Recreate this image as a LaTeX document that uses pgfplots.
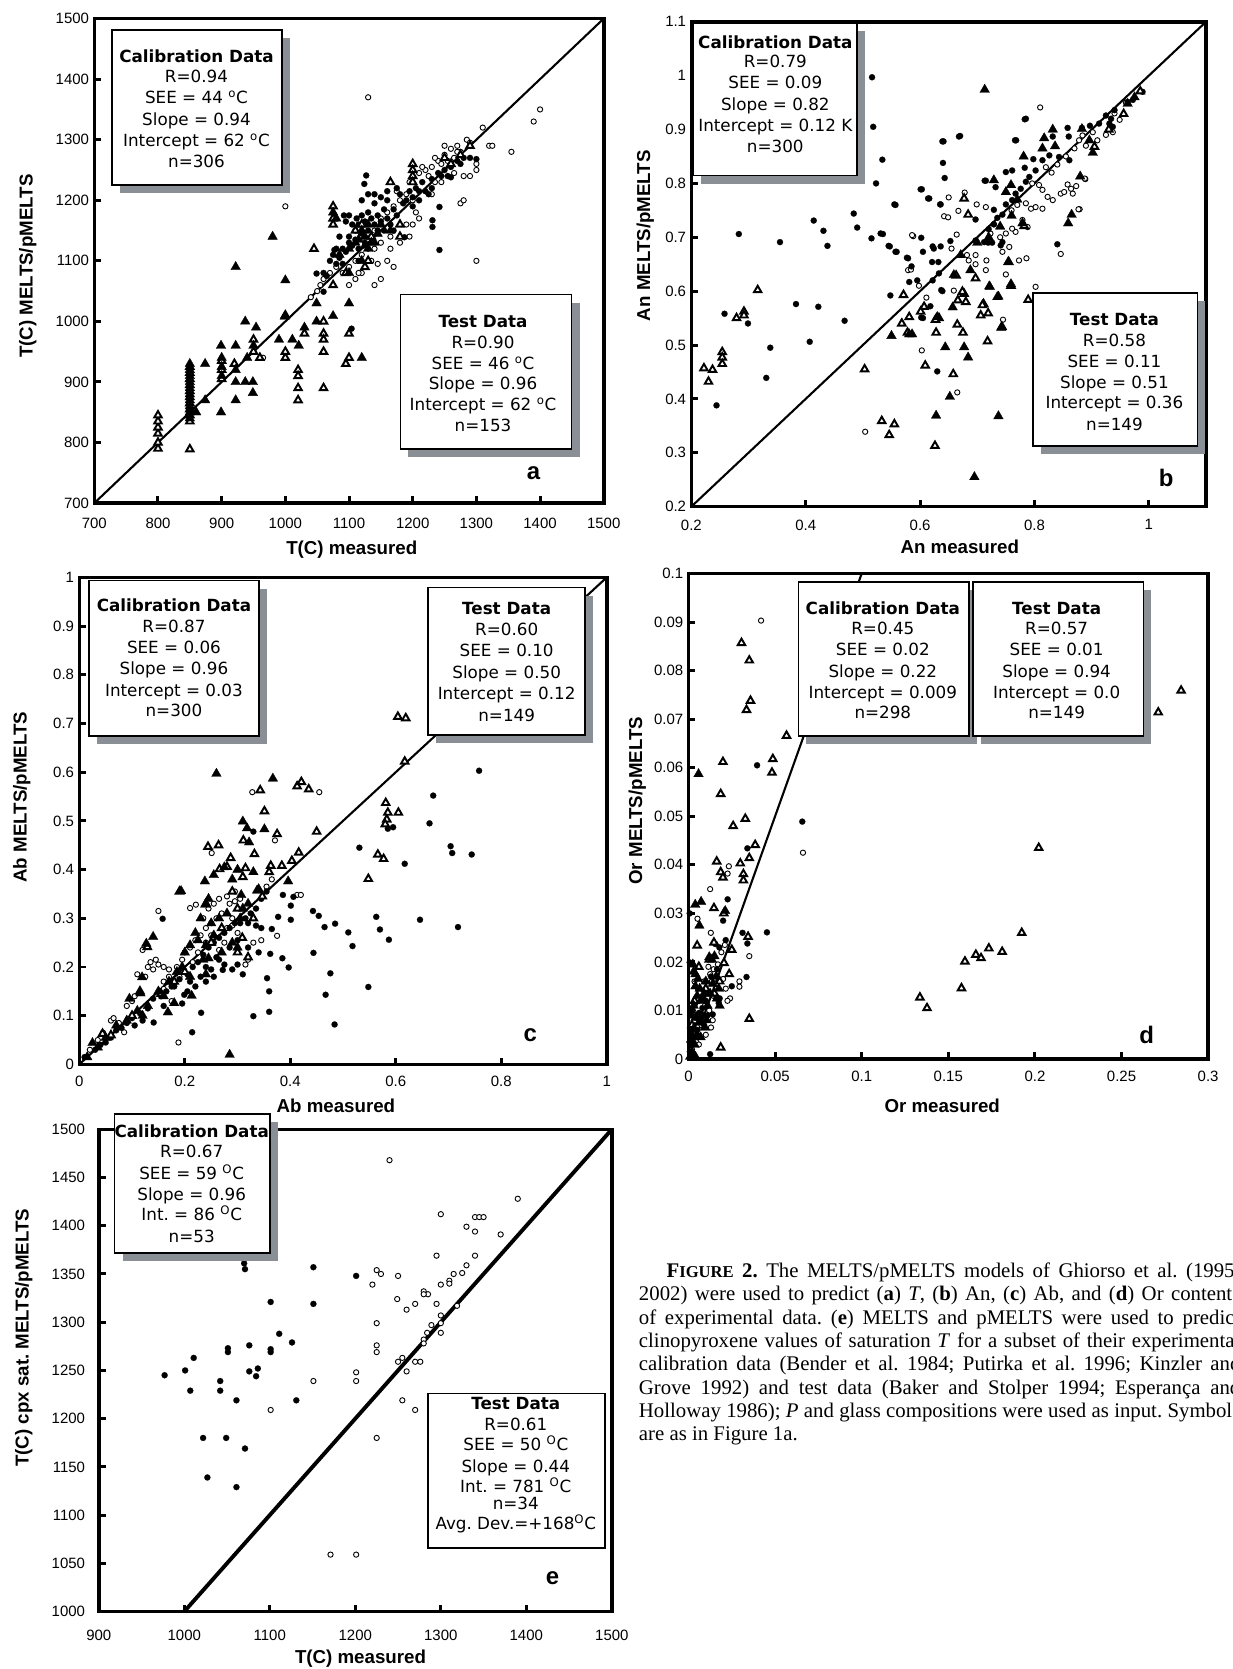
\documentclass[border=0pt]{standalone}
\usepackage{pgfplots}
\pgfplotsset{compat=1.18}
\usepackage{fontspec}
\setmainfont{Liberation Sans}
\newfontfamily\verd{DejaVu Sans}
\newfontfamily\capserif{Liberation Serif}
\definecolor{shgray}{RGB}{138,143,149}
\newcommand{\boxfont}{\verd\fontsize{11.2}{14}\selectfont}
\newcommand{\bl}[3]{\node[anchor=base, inner sep=0pt, font=\boxfont] at ({#1},{1562.2-#2}) {#3};}
\newcommand{\bx}[5]{%
  \ifnum#5=1 \fill[shgray] ({#1+7.5},{1568-#4-7.5}) rectangle ({#3+7.5},{1568-#2-7.5}); \fi
  \filldraw[fill=white,draw=black,line width=1.1pt] ({#1},{1568-#4}) rectangle ({#3},{1568-#2});}
\newcommand{\dg}[1]{\textsuperscript{#1}}
\pgfplotsset{
  panel/.style={
    scale only axis, clip=false, anchor=south west,
    axis line style={line width=2.4pt},
    tick align=inside, xtick pos=left, ytick pos=left,
    major tick length=1.6mm,
    every tick/.append style={line width=2pt, black},
    tick label style={font=\fontsize{10}{12}\selectfont},
    xticklabel style={yshift=-1.5mm},
    scaled ticks=false,
  },
  fc/.style={only marks, mark=*, mark size=0.72mm, mark options={fill=black, draw=black, line width=0.1pt}},
  oc/.style={only marks, mark=*, mark size=0.62mm, mark options={fill=white, draw=black, line width=0.6pt}},
  ft/.style={only marks, mark=triangle*, mark size=1.3mm, mark options={fill=black, draw=black, line width=0.2pt}},
  ot/.style={only marks, mark=triangle*, mark size=1.0mm, mark options={fill=white, draw=black, line width=1.3pt}},
}
\begin{document}
\frenchspacing
\begin{tikzpicture}[x=0.25mm,y=0.25mm]
% ---------------- panel a ----------------
\begin{axis}[panel, at={(22.15mm,273.825mm)}, width=119.65mm, height=113.8mm,
  xmin=700,xmax=1500,ymin=700,ymax=1500,
  xtick={700,800,...,1500}, ytick={700,800,...,1500},
  xticklabels={700,800,900,1000,1100,1200,1300,1400,1500},
  yticklabels={700,800,900,1000,1100,1200,1300,1400,1500},
  xticklabel style={yshift=-0.7mm}]
\addplot[black, line width=1.4pt] coordinates {(700,700) (1500,1500)};
\addplot[oc] coordinates {(1130,1370) (1000,1190) (1300,1100) (1390,1330) (1400,1350) (1355,1280) (1320,1290) (1325,1290) (1280,1240) (1290,1240) (1275,1195) (1280,1200) (1300,1260) (1300,1250) (1310,1320) (1285,1300) (1290,1295) (1270,1290) (1260,1285) (1250,1275) (1240,1265) (1230,1255) (1220,1250) (1210,1245) (1215,1255) (1225,1240) (1235,1230) (1245,1260) (1255,1265) (1265,1270) (1275,1280) (1195,1230) (1190,1210) (1180,1200) (1170,1190) (1175,1215) (1160,1180) (1150,1170) (1140,1150) (1130,1120) (1120,1110) (1110,1100) (1100,1090) (1090,1080) (1080,1090) (1070,1080) (1060,1070) (1055,1060) (1050,1050) (1040,1040) (1140,1060) (1150,1070) (1120,1080) (1115,1080) (1160,1100) (1165,1120) (1170,1090) (1180,1130) (1190,1160) (1200,1160) (1210,1170) (1165,1140) (1150,1130) (1140,1120) (1135,1100) (1145,1095) (965,940) (1200,1200) (1205,1180) (1265,1245) (1100,1060) (1110,1070) (1230,1210) (1245,1230) (1195,1140) (1235,1270) (1250,1290) (1270,1280)};
\addplot[fc] coordinates {(1060,1080) (1065,1075) (1070,1100) (1075,1110) (1080,1095) (1085,1105) (1090,1120) (1095,1115) (1100,1140) (1100,1130) (1105,1125) (1110,1150) (1110,1135) (1115,1160) (1115,1120) (1120,1175) (1120,1145) (1125,1130) (1125,1165) (1130,1150) (1130,1180) (1135,1140) (1135,1170) (1140,1160) (1140,1195) (1145,1150) (1145,1175) (1150,1205) (1150,1165) (1155,1185) (1155,1150) (1160,1170) (1160,1200) (1165,1160) (1170,1185) (1175,1175) (1180,1210) (1185,1195) (1190,1200) (1195,1215) (1200,1205) (1200,1190) (1205,1220) (1210,1200) (1215,1230) (1220,1215) (1225,1210) (1230,1235) (1240,1245) (1245,1240) (1250,1250) (1255,1240) (1260,1255) (1270,1265) (1275,1260) (1280,1270) (1290,1270) (1300,1268) (1127,1241) (1124,1227) (1242,1189) (1231,1167) (1231,1156) (1242,1118) (1077,1118) (1049,1079) (1060,1049) (1104,988) (1187,1139) (1092,1175) (1100,1175) (1105,1160) (1112,1170) (1095,1165) (1085,1140) (1120,1200) (1130,1210) (1140,1210) (1160,1215) (1175,1220) (1080,1120) (1090,1095) (1260,1238) (1230,1220) (1210,1215) (1170,1150) (1115,1100)};
\addplot[ot] coordinates {(800,790) (800,800) (800,815) (800,825) (800,835) (800,845) (850,789) (850,835) (850,845) (850,855) (850,865) (850,875) (850,885) (850,895) (850,905) (850,915) (850,925) (900,920) (900,935) (900,905) (920,930) (950,950) (950,970) (960,940) (1000,940) (1000,950) (1000,1010) (1020,920) (1020,910) (1020,890) (1020,870) (1030,980) (1060,1000) (1060,980) (1060,970) (1060,950) (1060,890) (1100,980) (1100,940) (1095,930) (1075,1060) (1095,1080) (1045,1120) (1075,1190) (1075,1170) (1075,1160) (1110,1150) (1120,1160) (1135,1140) (1180,1140) (1180,1160) (1200,1260) (1200,1250) (1200,1240) (1200,1230) (1260,1260) (1250,1270) (1275,1275) (1290,1290) (1125,1090) (1130,1100) (1165,1230)};
\addplot[ft] coordinates {(980,1140) (922,1090) (1000,1068) (999,1008) (937,1000) (954,990) (899,960) (922,960) (874,930) (900,940) (900,925) (900,910) (922,920) (922,900) (937,900) (949,900) (949,882) (922,870) (874,870) (899,850) (990,970) (1011,970) (1021,960) (1030,990) (1049,1030) (1049,1000) (1075,1009) (1100,1030) (1120,940) (850,930) (850,920) (850,910) (850,900) (850,890) (850,880) (850,870) (850,860) (850,850) (850,840) (950,960) (940,940) (860,850) (1075,1180) (1080,1170) (1125,1140) (1130,1160) (1120,1150) (1110,1130) (1100,1120) (1085,1110) (1130,1120) (1145,1145) (1165,1150) (1100,1080) (1120,1100) (1140,1130) (1150,1160) (1135,1130) (1125,1125) (1115,1135)};
\end{axis}
% ---------------- panel b ----------------
\begin{axis}[panel, at={(162.375mm,273mm)}, width=120.875mm, height=113.875mm,
  xmin=0.2,xmax=1.1,ymin=0.2,ymax=1.1,
  xtick={0.2,0.4,0.6,0.8,1}, ytick={0.2,0.3,0.4,0.5,0.6,0.7,0.8,0.9,1,1.1},
  xticklabels={0.2,0.4,0.6,0.8,1},
  yticklabels={0.2,0.3,0.4,0.5,0.6,0.7,0.8,0.9,1,1.1},
  xticklabel style={yshift=-0.3mm}]
\addplot[black, line width=1.4pt] coordinates {(0.2,0.2) (1.1,1.1)};
\addplot[oc] coordinates {(0.810,0.941) (0.504,0.339) (0.665,0.412) (0.603,0.490) (0.745,0.547) (0.802,0.608) (0.846,0.669) (0.879,0.752) (0.889,0.808) (0.588,0.702) (0.650,0.774) (0.678,0.783) (0.642,0.739) (0.649,0.737) (0.667,0.749) (0.699,0.761) (0.715,0.756) (0.586,0.704) (0.664,0.705) (0.655,0.679) (0.579,0.639) (0.584,0.640) (0.598,0.610) (0.611,0.588) (0.659,0.601) (0.697,0.650) (0.697,0.667) (0.716,0.657) (0.715,0.639) (0.750,0.631) (0.773,0.657) (0.786,0.661) (0.846,0.781) (0.852,0.784) (0.858,0.798) (0.864,0.790) (0.867,0.781) (0.873,0.795) (0.877,0.752) (0.888,0.809) (0.910,0.880) (0.937,0.895) (0.949,0.918) (0.925,0.890) (0.878,0.880) (0.884,0.889) (0.796,0.800) (0.808,0.797) (0.814,0.788) (0.823,0.775) (0.832,0.769) (0.785,0.763) (0.794,0.753) (0.802,0.756) (0.814,0.753) (0.779,0.732) (0.788,0.719) (0.767,0.710) (0.761,0.716) (0.750,0.707) (0.729,0.724) (0.723,0.707) (0.682,0.667) (0.685,0.657) (0.744,0.673) (0.756,0.682) (0.902,0.895) (0.960,0.950) (0.940,0.930) (0.820,0.830) (0.840,0.835) (0.760,0.750) (0.770,0.760) (0.740,0.700) (0.830,0.820) (0.855,0.850) (0.870,0.865) (0.890,0.870)};
\addplot[fc] coordinates {(0.516,0.997) (0.518,0.905) (0.534,0.844) (0.523,0.800) (0.283,0.706) (0.355,0.691) (0.414,0.731) (0.431,0.712) (0.438,0.684) (0.484,0.744) (0.490,0.718) (0.515,0.698) (0.535,0.706) (0.557,0.760) (0.547,0.683) (0.559,0.673) (0.579,0.661) (0.258,0.558) (0.299,0.540) (0.383,0.576) (0.422,0.571) (0.468,0.545) (0.338,0.495) (0.407,0.506) (0.331,0.439) (0.244,0.388) (0.548,0.592) (0.585,0.646) (0.603,0.789) (0.616,0.772) (0.641,0.878) (0.640,0.838) (0.643,0.810) (0.636,0.761) (0.670,0.888) (0.715,0.805) (0.768,0.880) (0.785,0.920) (0.602,0.699) (0.605,0.673) (0.622,0.683) (0.636,0.683) (0.605,0.550) (0.622,0.620) (0.630,0.451) (0.639,0.600) (0.595,0.620) (0.840,0.687) (0.858,0.903) (0.783,0.919) (0.766,0.880) (0.668,0.887) (0.639,0.878) (0.601,0.789) (0.614,0.772) (0.555,0.761) (0.635,0.761) (0.531,0.707) (0.545,0.684) (0.557,0.673) (0.624,0.679) (0.653,0.693) (0.577,0.662) (0.581,0.617) (0.621,0.654) (0.632,0.654) (0.633,0.633) (0.637,0.602) (0.602,0.551) (0.618,0.572) (0.860,0.887) (0.832,0.887) (0.798,0.845) (0.783,0.829) (0.713,0.805) (0.732,0.793) (0.750,0.821) (0.761,0.824) (0.697,0.733) (0.729,0.751) (0.697,0.694) (0.712,0.691) (0.719,0.690) (0.726,0.690) (0.741,0.685) (0.744,0.691) (0.883,0.903) (0.897,0.907) (0.913,0.911) (0.931,0.911) (0.937,0.905) (0.934,0.920) (0.925,0.926) (0.940,0.936) (0.963,0.951) (0.972,0.955) (0.989,0.970) (0.861,0.843) (0.843,0.849) (0.826,0.852) (0.814,0.843) (0.802,0.824) (0.791,0.812) (0.785,0.803) (0.776,0.790) (0.767,0.781) (0.761,0.769) (0.750,0.761) (0.744,0.742) (0.735,0.736) (0.729,0.724) (0.720,0.715)};
\addplot[ot] coordinates {(0.222,0.457) (0.230,0.432) (0.237,0.454) (0.254,0.487) (0.254,0.477) (0.254,0.465) (0.279,0.550) (0.292,0.562) (0.292,0.555) (0.316,0.602) (0.503,0.455) (0.533,0.359) (0.555,0.353) (0.546,0.333) (0.626,0.313) (0.609,0.462) (0.571,0.593) (0.568,0.540) (0.581,0.552) (0.578,0.523) (0.607,0.571) (0.628,0.523) (0.633,0.550) (0.658,0.446) (0.665,0.538) (0.675,0.523) (0.677,0.595) (0.680,0.580) (0.677,0.772) (0.684,0.742) (0.718,0.507) (0.706,0.555) (0.711,0.576) (0.789,0.584) (0.759,0.610) (0.755,0.654) (0.782,0.721) (0.956,0.929) (0.985,0.971) (0.663,0.629) (0.697,0.624) (0.709,0.574) (0.719,0.559) (0.743,0.534) (0.674,0.599) (0.666,0.583) (0.601,0.562) (0.627,0.547) (0.905,0.868) (0.930,0.900)};
\addplot[ft] coordinates {(0.713,0.974) (0.695,0.255) (0.737,0.368) (0.628,0.369) (0.652,0.404) (0.644,0.496) (0.684,0.477) (0.677,0.496) (0.722,0.608) (0.737,0.590) (0.742,0.532) (0.859,0.726) (0.865,0.742) (0.880,0.813) (0.902,0.857) (0.581,0.520) (0.550,0.517) (0.657,0.570) (0.817,0.884) (0.832,0.900) (0.781,0.850) (0.814,0.865) (0.836,0.869) (0.883,0.901) (0.896,0.880) (0.754,0.654) (0.759,0.613) (0.721,0.609) (0.735,0.589) (0.671,0.667) (0.688,0.639) (0.659,0.630) (0.630,0.552) (0.586,0.520) (0.750,0.784) (0.759,0.797) (0.729,0.806) (0.779,0.726) (0.963,0.948) (0.975,0.960) (0.700,0.690) (0.740,0.720) (0.760,0.740) (0.720,0.700) (0.770,0.770)};
\end{axis}
% ---------------- panel c ----------------
\begin{axis}[panel, at={(18.625mm,142mm)}, width=123.875mm, height=114.375mm,
  xmin=0,xmax=1,ymin=0,ymax=1,
  xtick={0,0.2,0.4,0.6,0.8,1}, ytick={0,0.1,0.2,0.3,0.4,0.5,0.6,0.7,0.8,0.9,1},
  xticklabels={0,0.2,0.4,0.6,0.8,1},
  yticklabels={0,0.1,0.2,0.3,0.4,0.5,0.6,0.7,0.8,0.9,1}]
\addplot[black, line width=1.4pt] coordinates {(0,0) (1,1)};
\addplot[oc] coordinates {(0.455,0.559) (0.328,0.559) (0.371,0.460) (0.251,0.434) (0.150,0.315) (0.188,0.045) (0.413,0.348) (0.420,0.348) (0.375,0.264) (0.085,0.066) (0.210,0.321) (0.221,0.328) (0.130,0.200) (0.140,0.195) (0.150,0.205) (0.145,0.215) (0.135,0.210) (0.160,0.200) (0.170,0.195) (0.125,0.180) (0.110,0.185) (0.120,0.235) (0.060,0.090) (0.065,0.095) (0.075,0.085) (0.045,0.065) (0.020,0.030) (0.035,0.050) (0.090,0.120) (0.100,0.130) (0.105,0.140) (0.160,0.170) (0.170,0.180) (0.180,0.165) (0.185,0.200) (0.195,0.215) (0.200,0.230) (0.210,0.240) (0.220,0.255) (0.230,0.265) (0.240,0.280) (0.250,0.290) (0.260,0.300) (0.270,0.310) (0.235,0.300) (0.245,0.320) (0.255,0.330) (0.265,0.340) (0.285,0.330) (0.295,0.335) (0.305,0.340) (0.225,0.230) (0.215,0.210) (0.280,0.280) (0.290,0.300) (0.330,0.250) (0.345,0.255) (0.320,0.215) (0.315,0.205) (0.300,0.270) (0.250,0.265) (0.240,0.250) (0.355,0.365) (0.365,0.380) (0.290,0.285) (0.265,0.235) (0.275,0.250) (0.160,0.155) (0.175,0.130) (0.190,0.180) (0.295,0.355) (0.280,0.345)};
\addplot[fc] coordinates {(0.758,0.603) (0.671,0.552) (0.664,0.495) (0.704,0.448) (0.707,0.434) (0.744,0.431) (0.617,0.412) (0.646,0.297) (0.718,0.282) (0.563,0.303) (0.570,0.277) (0.587,0.256) (0.548,0.159) (0.531,0.445) (0.585,0.484) (0.595,0.487) (0.485,0.289) (0.510,0.271) (0.518,0.243) (0.465,0.282) (0.443,0.315) (0.454,0.305) (0.444,0.229) (0.476,0.187) (0.467,0.143) (0.484,0.082) (0.385,0.218) (0.397,0.199) (0.401,0.326) (0.401,0.297) (0.377,0.303) (0.365,0.278) (0.362,0.227) (0.356,0.177) (0.360,0.150) (0.360,0.108) (0.330,0.099) (0.231,0.106) (0.214,0.066) (0.158,0.299) (0.141,0.086) (0.330,0.478) (0.386,0.348) (0.406,0.344) (0.272,0.194) (0.199,0.143) (0.010,0.015) (0.030,0.030) (0.050,0.045) (0.060,0.055) (0.080,0.075) (0.090,0.085) (0.100,0.095) (0.115,0.105) (0.130,0.115) (0.140,0.135) (0.155,0.140) (0.165,0.150) (0.175,0.160) (0.190,0.175) (0.205,0.185) (0.215,0.200) (0.225,0.210) (0.235,0.225) (0.245,0.240) (0.255,0.250) (0.265,0.260) (0.275,0.270) (0.285,0.280) (0.295,0.290) (0.305,0.290) (0.315,0.300) (0.325,0.310) (0.335,0.320) (0.345,0.340) (0.355,0.355) (0.265,0.215) (0.275,0.205) (0.290,0.195) (0.300,0.205) (0.310,0.185) (0.320,0.240) (0.335,0.285) (0.345,0.280) (0.340,0.230) (0.250,0.195) (0.230,0.180) (0.220,0.160) (0.205,0.150) (0.195,0.125) (0.210,0.170) (0.240,0.170) (0.255,0.180) (0.320,0.290) (0.300,0.255) (0.285,0.240) (0.260,0.220) (0.240,0.200) (0.180,0.160) (0.160,0.120) (0.120,0.090) (0.105,0.080) (0.070,0.070) (0.040,0.040)};
\addplot[ot] coordinates {(0.413,0.571) (0.421,0.580) (0.435,0.565) (0.343,0.563) (0.351,0.520) (0.311,0.460) (0.332,0.432) (0.287,0.424) (0.363,0.408) (0.384,0.408) (0.403,0.418) (0.416,0.435) (0.375,0.473) (0.450,0.478) (0.244,0.447) (0.264,0.450) (0.266,0.401) (0.280,0.406) (0.315,0.403) (0.581,0.537) (0.585,0.517) (0.583,0.503) (0.580,0.493) (0.605,0.517) (0.566,0.431) (0.577,0.422) (0.548,0.381) (0.617,0.622) (0.604,0.714) (0.619,0.711) (0.044,0.063) (0.129,0.241) (0.115,0.150) (0.309,0.260) (0.320,0.220) (0.300,0.230) (0.330,0.300) (0.290,0.355) (0.310,0.385) (0.360,0.395) (0.240,0.330) (0.180,0.170) (0.155,0.145) (0.200,0.190) (0.250,0.250) (0.270,0.280) (0.060,0.060) (0.100,0.100) (0.190,0.355) (0.347,0.345) (0.300,0.320)};
\addplot[ft] coordinates {(0.260,0.597) (0.367,0.587) (0.285,0.020) (0.310,0.499) (0.318,0.485) (0.351,0.483) (0.322,0.456) (0.255,0.389) (0.238,0.376) (0.239,0.328) (0.193,0.356) (0.140,0.262) (0.127,0.248) (0.119,0.179) (0.095,0.135) (0.116,0.146) (0.180,0.126) (0.213,0.141) (0.307,0.348) (0.337,0.357) (0.396,0.376) (0.245,0.218) (0.240,0.185) (0.025,0.044) (0.168,0.107) (0.300,0.400) (0.275,0.405) (0.330,0.395) (0.220,0.270) (0.230,0.300) (0.250,0.290) (0.200,0.230) (0.210,0.245) (0.225,0.255) (0.265,0.300) (0.280,0.310) (0.290,0.250) (0.300,0.240) (0.185,0.190) (0.170,0.170) (0.150,0.150) (0.130,0.120) (0.110,0.110) (0.090,0.090) (0.070,0.080) (0.050,0.055) (0.035,0.035) (0.015,0.015) (0.270,0.230) (0.210,0.180) (0.245,0.340) (0.290,0.380) (0.160,0.140) (0.120,0.100) (0.235,0.215) (0.255,0.265) (0.310,0.320) (0.320,0.330) (0.340,0.360) (0.305,0.300) (0.195,0.200) (0.240,0.245)};
\end{axis}
% ---------------- panel d ----------------
\begin{axis}[panel, at={(161.7mm,143.25mm)}, width=122.05mm, height=114.05mm,
  xmin=0,xmax=0.3,ymin=0,ymax=0.1,
  xtick={0,0.05,0.1,0.15,0.2,0.25,0.3}, ytick={0,0.01,0.02,0.03,0.04,0.05,0.06,0.07,0.08,0.09,0.1},
  xticklabels={0,0.05,0.1,0.15,0.2,0.25,0.3},
  yticklabels={0,0.01,0.02,0.03,0.04,0.05,0.06,0.07,0.08,0.09,0.1}]
\addplot[black, line width=1.4pt] coordinates {(0,0) (0.1,0.1)};
\addplot[oc] coordinates {(0.0419,0.0903) (0.0661,0.0425) (0.0125,0.0350) (0.0233,0.0397) (0.0226,0.0382) (0.0052,0.0289) (0.0129,0.0260) (0.0351,0.0212) (0.0294,0.0160) (0.0294,0.0149) (0.021,0.0235) (0.019,0.022) (0.017,0.0195) (0.0145,0.0185) (0.0125,0.0175) (0.0135,0.0160) (0.016,0.0155) (0.024,0.0125) (0.0225,0.0120) (0.0145,0.0130) (0.0095,0.0110) (0.012,0.0100) (0.014,0.0080) (0.013,0.0065) (0.0075,0.0070) (0.0045,0.0035) (0.002,0.002) (0.006,0.003) (0.010,0.005) (0.0055,0.0145) (0.0035,0.0160) (0.009,0.0160) (0.0115,0.0190) (0.0215,0.0145) (0.0200,0.0165)};
\addplot[fc] coordinates {(0.0396,0.0605) (0.0657,0.0489) (0.0453,0.0261) (0.0340,0.0434) (0.0226,0.0329) (0.0312,0.0260) (0.0340,0.0238) (0.0335,0.0169) (0.0125,0.0010) (0.0007,0.0300) (0.0007,0.0199) (0.020,0.0285) (0.0215,0.0245) (0.0178,0.0230) (0.0155,0.0237) (0.025,0.015) (0.0175,0.0115) (0.014,0.0092) (0.016,0.0125) (0.012,0.0135) (0.010,0.0120) (0.008,0.0105) (0.006,0.0095) (0.0045,0.0085) (0.003,0.0070) (0.002,0.005) (0.0015,0.003) (0.0035,0.0045) (0.005,0.006) (0.007,0.008) (0.009,0.007) (0.011,0.009) (0.0025,0.010) (0.004,0.0115) (0.0013,0.0100) (0.0012,0.0065) (0.0008,0.0015) (0.003,0.0008) (0.018,0.0125) (0.013,0.017) (0.0165,0.0185) (0.0085,0.0128)};
\addplot[ot] coordinates {(0.0306,0.0857) (0.0351,0.0821) (0.0358,0.0738) (0.0335,0.0719) (0.0566,0.0666) (0.0487,0.0618) (0.0482,0.0590) (0.0199,0.0612) (0.0186,0.0546) (0.0258,0.0480) (0.0328,0.0495) (0.0385,0.0441) (0.0351,0.0414) (0.0163,0.0407) (0.0186,0.0385) (0.0199,0.0374) (0.0299,0.0403) (0.0317,0.0381) (0.0317,0.0368) (0.0147,0.0311) (0.0204,0.0300) (0.0344,0.0252) (0.0050,0.0234) (0.0147,0.0240) (0.0250,0.0225) (0.0235,0.0175) (0.0351,0.0083) (0.0186,0.0024) (0.1336,0.0127) (0.1377,0.0105) (0.1576,0.0146) (0.1596,0.0201) (0.1659,0.0215) (0.1689,0.0208) (0.1734,0.0228) (0.1811,0.0221) (0.1924,0.0260) (0.2022,0.0435) (0.2712,0.0714) (0.2844,0.0759) (0.0120,0.0205) (0.0100,0.0145) (0.0150,0.0135) (0.0060,0.0190) (0.0180,0.0160) (0.0205,0.0198) (0.0035,0.0120) (0.0020,0.0070)};
\addplot[ft] coordinates {(0.0058,0.0587) (0.0039,0.0318) (0.0073,0.0324) (0.0063,0.0275) (0.0212,0.0305) (0.0025,0.0195) (0.003,0.018) (0.004,0.0175) (0.0055,0.0165) (0.012,0.021) (0.0135,0.0205) (0.015,0.0212) (0.016,0.017) (0.0175,0.0145) (0.0165,0.0125) (0.018,0.011) (0.004,0.015) (0.005,0.013) (0.007,0.012) (0.009,0.0135) (0.010,0.016) (0.0065,0.0145) (0.003,0.011) (0.002,0.009) (0.004,0.0085) (0.006,0.0075) (0.008,0.009) (0.011,0.011) (0.0125,0.0135) (0.014,0.0155) (0.0025,0.006) (0.005,0.005) (0.0035,0.003) (0.002,0.0015) (0.007,0.0045) (0.0095,0.0065) (0.0015,0.004) (0.001,0.0005) (0.004,0.0005) (0.0105,0.008)};
\end{axis}
% ---------------- panel e ----------------
\begin{axis}[panel, at={(23.2mm,13.5mm)}, width=120.5mm, height=113.25mm,
  xmin=900,xmax=1500,ymin=1000,ymax=1500,
  xtick={900,1000,...,1500}, ytick={1000,1050,...,1500},
  xticklabels={900,1000,1100,1200,1300,1400,1500},
  yticklabels={1000,1050,1100,1150,1200,1250,1300,1350,1400,1450,1500},
  xticklabel style={yshift=-1.7mm}, yticklabel style={xshift=-2mm}]
\addplot[black, line width=2.6pt] coordinates {(1000,1000) (1500,1500)};
\addplot[fc] coordinates {(977,1245) (1001,1250) (1007,1229) (1011,1263) (1022,1180) (1027,1139) (1042,1239) (1042,1229) (1049,1180) (1051,1273) (1051,1269) (1061,1219) (1061,1129) (1070,1361) (1071,1355) (1071,1169) (1076,1276) (1076,1249) (1084,1244) (1086,1252) (1101,1321) (1101,1272) (1101,1269) (1111,1288) (1126,1279) (1131,1219) (1151,1357) (1151,1319) (1201,1348)};
\addplot[oc] coordinates {(1240,1468) (1390,1428) (1300,1412) (1340,1409) (1345,1409) (1350,1409) (1330,1399) (1340,1394) (1370,1391) (1295,1369) (1340,1369) (1330,1359) (1325,1351) (1315,1350) (1310,1343) (1310,1340) (1300,1339) (1319,1317) (1225,1354) (1230,1350) (1220,1339) (1250,1348) (1280,1332) (1285,1329) (1280,1329) (1270,1319) (1295,1319) (1249,1324) (1260,1313) (1300,1307) (1300,1299) (1300,1289) (1289,1297) (1284,1289) (1280,1282) (1280,1278) (1225,1299) (1225,1276) (1225,1269) (1255,1263) (1250,1259) (1270,1259) (1276,1259) (1260,1249) (1201,1248) (1201,1239) (1151,1239) (1101,1209) (1255,1219) (1270,1209) (1225,1180) (1171,1059) (1201,1059)};
\end{axis}
% ---------------- boxes ----------------
\bx{105.1}{28.5}{264.8}{173.7}{1}
\bl{184.6}{52.7}{\textbf{Calibration Data}}
\bl{184.6}{72.1}{R=0.94}
\bl{184.6}{91.6}{SEE = 44 \dg{o}C}
\bl{184.6}{111.7}{Slope = 0.94}
\bl{184.6}{131.8}{Intercept = 62 \dg{o}C}
\bl{184.6}{151.6}{n=306}
\bx{376.2}{276.8}{537}{422}{1}
\bl{453.8}{301.9}{\textbf{Test Data}}
\bl{453.8}{321.4}{R=0.90}
\bl{453.8}{341.2}{SEE = 46 \dg{o}C}
\bl{453.8}{360.6}{Slope = 0.96}
\bl{453.8}{380}{Intercept = 62 \dg{o}C}
\bl{453.8}{399.9}{n=153}
\bx{651.3}{21.8}{805.1}{165}{1}
\bl{728.4}{39.6}{\textbf{Calibration Data}}
\bl{728.4}{58}{R=0.79}
\bl{728.4}{77.8}{SEE = 0.09}
\bl{728.4}{98}{Slope = 0.82}
\bl{728.4}{117.4}{Intercept = 0.12 K}
\bl{728.4}{137.5}{n=300}
\bx{970.7}{275}{1124.9}{419.3}{1}
\bl{1047}{299.6}{\textbf{Test Data}}
\bl{1047}{319.4}{R=0.58}
\bl{1047}{339.5}{SEE = 0.11}
\bl{1047}{359}{Slope = 0.51}
\bl{1047}{378.4}{Intercept = 0.36}
\bl{1047}{398.2}{n=149}
\bx{83.5}{545.4}{243.2}{691.3}{1}
\bl{163.4}{568.5}{\textbf{Calibration Data}}
\bl{163.4}{588}{R=0.87}
\bl{163.4}{608}{SEE = 0.06}
\bl{163.4}{627.5}{Slope = 0.96}
\bl{163.4}{648.3}{Intercept = 0.03}
\bl{163.4}{667.8}{n=300}
\bx{402.2}{552.1}{549.6}{690.3}{1}
\bl{476}{571.9}{\textbf{Test Data}}
\bl{476}{591.3}{R=0.60}
\bl{476}{611.4}{SEE = 0.10}
\bl{476}{631.6}{Slope = 0.50}
\bl{476}{651.7}{Intercept = 0.12}
\bl{476}{671.8}{n=149}
\bx{750.1}{547}{910.1}{691.3}{1}
\bl{829.4}{571.2}{\textbf{Calibration Data}}
\bl{829.4}{590.6}{R=0.45}
\bl{829.4}{610.4}{SEE = 0.02}
\bl{829.4}{630.6}{Slope = 0.22}
\bl{829.4}{650}{Intercept = 0.009}
\bl{829.4}{669.5}{n=298}
\bx{914.2}{547}{1074.2}{691.3}{1}
\bl{992.7}{571.2}{\textbf{Test Data}}
\bl{992.7}{590.6}{R=0.57}
\bl{992.7}{610.4}{SEE = 0.01}
\bl{992.7}{630.6}{Slope = 0.94}
\bl{992.7}{650}{Intercept = 0.0}
\bl{992.7}{669.5}{n=149}
\bx{107.7}{1046.4}{253.6}{1177.3}{1}
\bl{180.1}{1063.2}{\textbf{Calibration Data}}
\bl{180.1}{1081.9}{R=0.67}
\bl{180.1}{1102}{SEE = 59 \dg{O}C}
\bl{180.1}{1121.7}{Slope = 0.96}
\bl{180.1}{1141.2}{Int. = 86 \dg{O}C}
\bl{180.1}{1161.2}{n=53}
\bx{402.2}{1309.2}{568.1}{1454.2}{0}
\bl{484.6}{1318.6}{\textbf{Test Data}}
\bl{484.6}{1338}{R=0.61}
\bl{484.6}{1357.1}{SEE = 50 \dg{O}C}
\bl{484.6}{1377.2}{Slope = 0.44}
\bl{484.6}{1396.3}{Int. = 781 \dg{O}C}
\bl{484.6}{1412.3}{n=34}
\bl{484.6}{1430.7}{Avg. Dev.=+168\dg{O}C}
% ---------------- panel letters ----------------
\begin{scope}[every node/.style={font=\bfseries\fontsize{16}{16}\selectfont, inner sep=0pt}]
\node at (501.3,{1568-444.5}) {a};
\node at (1095.5,{1568-449.5}) {b};
\node at (498.3,{1568-972.1}) {c};
\node at (1077.2,{1568-972.1}) {d};
\node at (519.1,{1568-1482.6}) {e};
\end{scope}
% ---------------- axis labels ----------------
\begin{scope}[every node/.style={font=\bfseries\fontsize{12.5}{14}\selectfont, inner sep=0pt}]
\node at (330.5,{1568-516.6}) {T(C) measured};
\node at (901.7,{1568-513.3}) {An measured};
\node at (315.6,{1568-1039}) {Ab measured};
\node at (885.2,{1568-1038.5}) {Or measured};
\node at (338.7,{1568-1558}) {T(C) measured};
\node[rotate=90] at (26,{1568-250}) {T(C) MELTS/pMELTS};
\node[rotate=90] at (606.2,{1568-221.4}) {An MELTS/pMELTS};
\node[rotate=90] at (20.4,{1568-749}) {Ab MELTS/pMELTS};
\node[rotate=90] at (598.8,{1568-752.3}) {Or MELTS/pMELTS};
\node[rotate=90] at (22.3,{1568-1256.7}) {T(C) cpx sat. MELTS/pMELTS};
\end{scope}
% ---------------- caption ----------------
\node[anchor=north west, inner sep=0pt, text width=141.25mm, align=justify,
  font=\capserif\fontsize{13.9}{15.6}\selectfont] at (600,{1568-1186}) {%
\hspace*{6.5mm}\textbf{F{\fontsize{11.1}{12}\selectfont IGURE} 2.} The MELTS/pMELTS models of Ghiorso et al. (1995;\linebreak
2002) were used to predict (\textbf{a}) \textit{T}, (\textbf{b}) An, (\textbf{c}) Ab, and (\textbf{d}) Or contents\linebreak
of experimental data. (\textbf{e}) MELTS and pMELTS were used to predict\linebreak
clinopyroxene values of saturation \textit{T} for a subset of their experimental\linebreak
calibration data (Bender et al. 1984; Putirka et al. 1996; Kinzler and\linebreak
Grove 1992) and test data (Baker and Stolper 1994; Esperan\c{c}a and\linebreak
Holloway 1986); \textit{P} and glass compositions were used as input. Symbols\linebreak
are as in Figure 1a.};
\pgfresetboundingbox
\path[use as bounding box] (0,0) rectangle (1158,1568);
\end{tikzpicture}
\end{document}
